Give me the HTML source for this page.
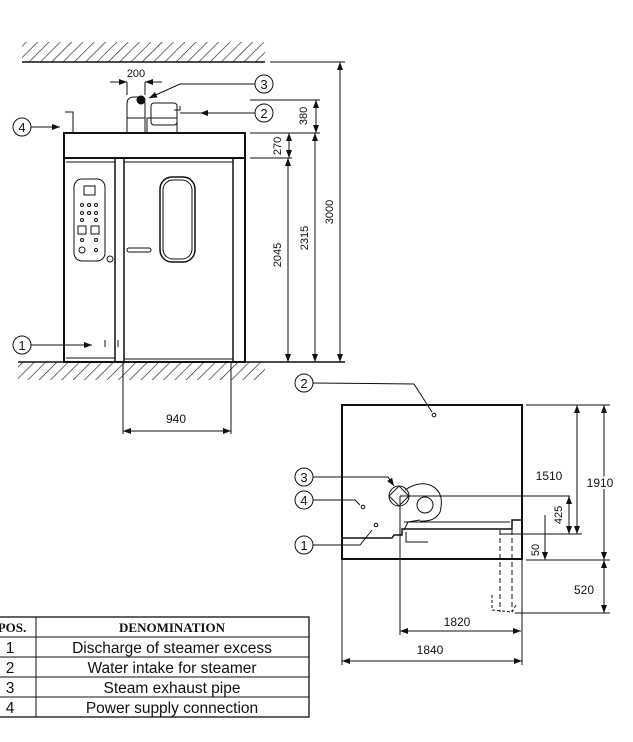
<!DOCTYPE html>
<html><head><meta charset="utf-8"><style>
html,body{margin:0;padding:0;background:#fff;}
svg{display:block;font-family:"Liberation Sans",sans-serif;}
</style></head><body>
<svg width="633" height="742" viewBox="0 0 633 742" xmlns="http://www.w3.org/2000/svg">
<defs>
<pattern id="h" width="8" height="8" patternUnits="userSpaceOnUse" patternTransform="rotate(45)">
<line x1="0" y1="0" x2="0" y2="8" stroke="#222" stroke-width="1.3"/></pattern>
<marker id="a" markerWidth="8" markerHeight="6" refX="8" refY="3" orient="auto-start-reverse"><path d="M0,0 L8,3 L0,6 z" fill="#111"/></marker>
</defs>
<g stroke="#111" fill="none" stroke-width="1">
<rect x="22" y="42" width="243" height="20" fill="url(#h)" stroke="none"/>
<line x1="22" y1="62" x2="265" y2="62" stroke-width="1.5"/>
<line x1="270" y1="62" x2="345" y2="62"/>
<rect x="18" y="362" width="247" height="18" fill="url(#h)" stroke="none"/>
<line x1="18" y1="362" x2="345" y2="362" stroke-width="1.5"/>
<rect x="64" y="133" width="181" height="25" stroke-width="2"/>
<rect x="64" y="158" width="181" height="204" stroke-width="2"/>
<line x1="115" y1="158" x2="115" y2="362" stroke-width="1.5"/>
<line x1="124" y1="158" x2="124" y2="362" stroke-width="1.5"/>
<line x1="233" y1="158" x2="233" y2="362" stroke-width="1.5"/>
<line x1="124" y1="162" x2="233" y2="162"/>
<line x1="66" y1="162" x2="115" y2="162"/>
<line x1="66" y1="358" x2="115" y2="358"/>
<line x1="124" y1="359" x2="233" y2="359"/>
<rect x="74" y="179" width="31" height="82" rx="8"/>
<rect x="84" y="186" width="11" height="9"/>
<g fill="none"><circle cx="82" cy="205" r="1.5"/><circle cx="89" cy="205" r="1.5"/><circle cx="96" cy="205" r="1.5"/>
<circle cx="82" cy="213" r="1.5"/><circle cx="89" cy="213" r="1.5"/><circle cx="96" cy="213" r="1.5"/>
<circle cx="82" cy="220" r="1.5"/><circle cx="96" cy="220" r="1.5"/>
<circle cx="82" cy="240" r="1.5"/><circle cx="96" cy="240" r="1.5"/>
<circle cx="82" cy="250" r="3"/><circle cx="96" cy="250" r="1.5"/></g>
<rect x="78" y="226" width="8" height="8"/><rect x="91" y="226" width="8" height="8"/>
<circle cx="110" cy="259" r="3"/>
<rect x="160" y="177" width="35" height="85" rx="12" stroke-width="1.5"/>
<rect x="163" y="180" width="29" height="79" rx="10"/>
<rect x="127" y="248" width="24" height="4" rx="2"/>
<line x1="105" y1="340" x2="105" y2="347"/><line x1="118" y1="340" x2="118" y2="347"/>
<path d="M127 133 L127 104 Q127 97 134 97 L138 97 Q145 97 145 104 L145 133"/>
<line x1="127" y1="118" x2="145" y2="118"/>
<circle cx="141" cy="100" r="4" fill="#111"/>
<rect x="151" y="103" width="26" height="22" rx="3"/>
<rect x="147" y="118" width="30" height="15"/>
<path d="M174 110 L180 110 L180 106 M180 113 L200 113"/>
<path d="M65 112 L73 112 L73 133"/>
<line x1="127" y1="82" x2="127" y2="95"/><line x1="145" y1="82" x2="145" y2="95"/>
<line x1="110" y1="82" x2="127" y2="82" marker-end="url(#a)"/><line x1="162" y1="82" x2="145" y2="82" marker-end="url(#a)"/>
<line x1="250" y1="100" x2="320" y2="100"/><line x1="250" y1="133" x2="320" y2="133"/><line x1="250" y1="158" x2="292" y2="158"/>
<line x1="340" y1="62" x2="340" y2="362" marker-start="url(#a)" marker-end="url(#a)"/>
<line x1="315" y1="133" x2="315" y2="362" marker-start="url(#a)" marker-end="url(#a)"/>
<line x1="316" y1="100" x2="316" y2="133" marker-start="url(#a)" marker-end="url(#a)"/>
<line x1="288" y1="158" x2="288" y2="362" marker-start="url(#a)" marker-end="url(#a)"/>
<line x1="289" y1="133" x2="289" y2="158" marker-start="url(#a)" marker-end="url(#a)"/>
<line x1="123" y1="362" x2="123" y2="434"/><line x1="231" y1="362" x2="231" y2="434"/>
<line x1="123" y1="431" x2="231" y2="431" marker-start="url(#a)" marker-end="url(#a)"/>
<circle cx="264" cy="84" r="9"/><path d="M255 84 L180 84 L149 98" marker-end="url(#a)"/>
<circle cx="264" cy="113" r="9"/><line x1="255" y1="113" x2="200" y2="113" marker-end="url(#a)"/>
<circle cx="22" cy="127" r="9"/><line x1="31" y1="127" x2="60" y2="127" marker-end="url(#a)"/>
<circle cx="22" cy="345" r="9"/><line x1="31" y1="345" x2="92" y2="345" marker-end="url(#a)"/>
<rect x="342" y="405" width="180" height="154" stroke-width="2"/>
<circle cx="434" cy="415" r="1.8"/>
<circle cx="304" cy="383" r="9"/><path d="M313 383 L414 384 L432 412"/>
<circle cx="304" cy="477" r="9"/><path d="M313 477 L388 477 L394 486" marker-end="url(#a)"/>
<circle cx="304" cy="500" r="9"/><path d="M313 500 L355 500 L360 505"/><circle cx="363" cy="507" r="1.8"/>
<circle cx="304" cy="545" r="9"/><path d="M313 545 L360 545 L372 530"/><circle cx="376" cy="525" r="1.8"/>
<rect x="392" y="489" width="14" height="14" transform="rotate(45 399 496)"/>
<circle cx="399" cy="496" r="10"/>
<path d="M405 490 Q420 480 432 486 Q445 493 440 512 Q435 522 420 521"/>
<circle cx="425" cy="505" r="8"/>
<line x1="400" y1="496" x2="570" y2="496"/>
<path d="M342 538 L392 538 L394 535 L402 535 L402 529 L512 529 L512 520 L522 520" stroke-width="1.5"/>
<line x1="404" y1="522" x2="510" y2="522"/>
<path d="M406 532 L406 542 L428 542"/>
<path d="M404 530 L408 522 L420 520"/>
<line x1="400" y1="496" x2="400" y2="635"/>
<line x1="342" y1="559" x2="342" y2="665"/><line x1="522" y1="559" x2="522" y2="665"/>
<line x1="500" y1="530" x2="500" y2="612" stroke-dasharray="5,3"/>
<line x1="512" y1="530" x2="512" y2="612" stroke-dasharray="5,3"/>
<path d="M492 595 L492 610 L512 612 L516 605" stroke-dasharray="3,2"/>
<line x1="400" y1="631" x2="521" y2="631" marker-start="url(#a)" marker-end="url(#a)"/>
<line x1="342" y1="661" x2="522" y2="661" marker-start="url(#a)" marker-end="url(#a)"/>
<line x1="526" y1="405" x2="610" y2="405"/><line x1="500" y1="534" x2="582" y2="534"/>
<line x1="526" y1="560" x2="610" y2="560"/><line x1="515" y1="613" x2="610" y2="613"/>
<line x1="604" y1="405" x2="604" y2="560" marker-start="url(#a)" marker-end="url(#a)"/>
<line x1="604" y1="560" x2="604" y2="613" marker-start="url(#a)" marker-end="url(#a)"/>
<line x1="577" y1="405" x2="577" y2="534" marker-start="url(#a)" marker-end="url(#a)"/>
<line x1="569" y1="496" x2="569" y2="534" marker-start="url(#a)" marker-end="url(#a)"/>
<line x1="545" y1="515" x2="545" y2="560" marker-end="url(#a)"/>
<rect x="-2" y="617" width="311" height="100" stroke-width="1.3"/>
<line x1="36" y1="617" x2="36" y2="717"/>
<line x1="0" y1="637" x2="309" y2="637"/><line x1="0" y1="657" x2="309" y2="657"/>
<line x1="0" y1="677" x2="309" y2="677"/><line x1="0" y1="697" x2="309" y2="697"/>
</g>
<g fill="#111" font-size="11" text-anchor="middle">
<text x="136" y="77">200</text>
<g font-size="13"><text x="264" y="89">3</text><text x="264" y="118">2</text><text x="22" y="132">4</text><text x="22" y="350">1</text>
<text x="304" y="388">2</text><text x="304" y="482">3</text><text x="304" y="505">4</text><text x="304" y="550">1</text></g>
<text transform="translate(307,116) rotate(-90)">380</text>
<text transform="translate(281,146) rotate(-90)">270</text>
<text transform="translate(281,255) rotate(-90)">2045</text>
<text transform="translate(308,238) rotate(-90)">2315</text>
<text transform="translate(333,212) rotate(-90)">3000</text>
<text transform="translate(562,515) rotate(-90)">425</text>
<text transform="translate(539,550) rotate(-90)">50</text>
<text x="176" y="423" font-size="12">940</text>
<text x="549" y="480" font-size="12">1510</text>
<text x="600" y="487" font-size="12" stroke="#fff" stroke-width="4" paint-order="stroke">1910</text>
<text x="584" y="594" font-size="12">520</text>
<text x="457" y="626" font-size="12">1820</text>
<text x="430" y="654" font-size="12">1840</text>
</g>
<g fill="#111" text-anchor="middle">
<text x="12" y="632" font-family="Liberation Serif,serif" font-weight="bold" font-size="13">POS.</text>
<text x="172" y="632" font-family="Liberation Serif,serif" font-weight="bold" font-size="13">DENOMINATION</text>
<g font-size="15.5"><text x="10" y="653">1</text><text x="10" y="673">2</text><text x="10" y="693">3</text><text x="10" y="713">4</text>
<text x="172" y="653">Discharge of steamer excess</text>
<text x="172" y="673">Water intake for steamer</text>
<text x="172" y="693">Steam exhaust pipe</text>
<text x="172" y="713">Power supply connection</text></g>
</g>
</svg>
</body></html>
